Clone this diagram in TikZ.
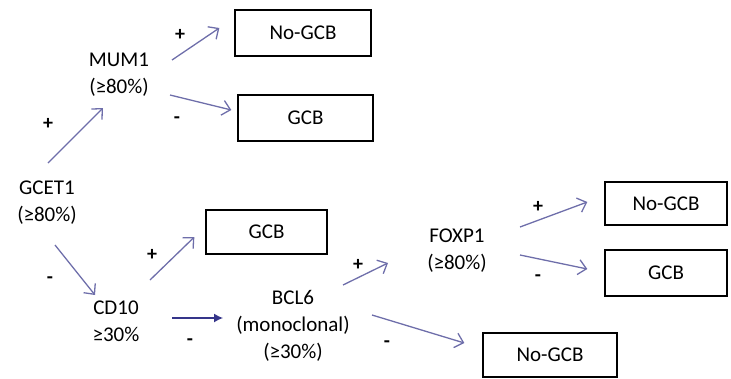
\documentclass[tikz,border=0pt]{standalone}
\usepackage{fontspec}
\setmainfont{Carlito}
\usetikzlibrary{arrows.meta}
\definecolor{arrowblue}{HTML}{6E6EAA}
\definecolor{arrowdark}{HTML}{35358A}

\begin{document}
\begin{tikzpicture}[x=1pt, y=-1pt, >={Straight Barb[length=8pt,width=15pt]},
  every node/.style={font=\fontsize{21}{27}\selectfont},
  antigen/.style={align=center, inner sep=0pt},
  result/.style={draw, line width=1.3pt, inner sep=0pt},
  sign/.style={inner sep=0pt, font=\fontsize{20}{20}\selectfont\bfseries},
  arr/.style={->, line width=1.3pt, arrowblue}]
  \useasboundingbox (0,0) rectangle (731,378);

  % markers
  \node[antigen] (gcet1) at (47,203) {GCET1\\(≥80\%)};
  \node[antigen] (mum1) at (119,75) {MUM1\\(≥80\%)};
  \node[antigen] (cd10) at (116,321) {CD10\\≥30\%};
  \node[antigen] (bcl6) at (293,326) {BCL6\\(monoclonal)\\(≥30\%)};
  \node[antigen] (foxp1) at (457,251) {FOXP1\\(≥80\%)};

  % outcomes
  \node[result, minimum width=136pt, minimum height=46pt] (nogcbA) at (303,33) {No-GCB};
  \node[result, minimum width=135pt, minimum height=46pt] (gcbA) at (305.5,118) {GCB};
  \node[result, minimum width=121pt, minimum height=44pt] (gcbB) at (266.5,232) {GCB};
  \node[result, minimum width=122pt, minimum height=43pt] (nogcbB) at (666,203.5) {No-GCB};
  \node[result, minimum width=122pt, minimum height=46pt] (gcbC) at (666,273) {GCB};
  \node[result, minimum width=134pt, minimum height=44pt] (nogcbC) at (550,355) {No-GCB};

  % arrows
  \draw[arr] ([shift={(1,-40)}]gcet1.center) -- ([shift={(-16,33)}]mum1.center);
  \draw[arr] ([shift={(53,-15)}]mum1.center) -- ([shift={(-15,-5)}]nogcbA.west);
  \draw[arr] ([shift={(51,20)}]mum1.center) -- ([shift={(-6,-8)}]gcbA.west);
  \draw[arr] ([shift={(8,42)}]gcet1.center) -- ([shift={(-21,-26)}]cd10.center);
  \draw[arr] ([shift={(34,-41)}]cd10.center) -- ([shift={(-11,5)}]gcbB.west);
  \draw[-{Latex[length=9pt,width=9pt]}, line width=1.3pt, arrowdark]
    ([shift={(56,-3)}]cd10.center) -- ([shift={(-70,-8)}]bcl6.center);
  \draw[arr] ([shift={(50,-41)}]bcl6.center) -- ([shift={(-69,12)}]foxp1.center);
  \draw[arr] ([shift={(79,-11)}]bcl6.center) -- ([shift={(-18,-12)}]nogcbC.west);
  \draw[arr] ([shift={(63,-24)}]foxp1.center) -- ([shift={(-17,-1.5)}]nogcbB.west);
  \draw[arr] ([shift={(63,4)}]foxp1.center) -- ([shift={(-17,-4)}]gcbC.west);

  % signs
  \node[sign] (s1) at (48,124) {+};
  \node[sign] (s2) at (180,35) {+};
  \node[sign] (s3) at (177,120) {-};
  \node[sign] (s4) at (50,280) {-};
  \node[sign] (s5) at (152,255) {+};
  \node[sign] (s6) at (190,342) {-};
  \node[sign] (s7) at (358,265) {+};
  \node[sign] (s8) at (387,344) {-};
  \node[sign] (s9) at (538,207) {+};
  \node[sign] (s10) at (538,278) {-};
\end{tikzpicture}
\end{document}
